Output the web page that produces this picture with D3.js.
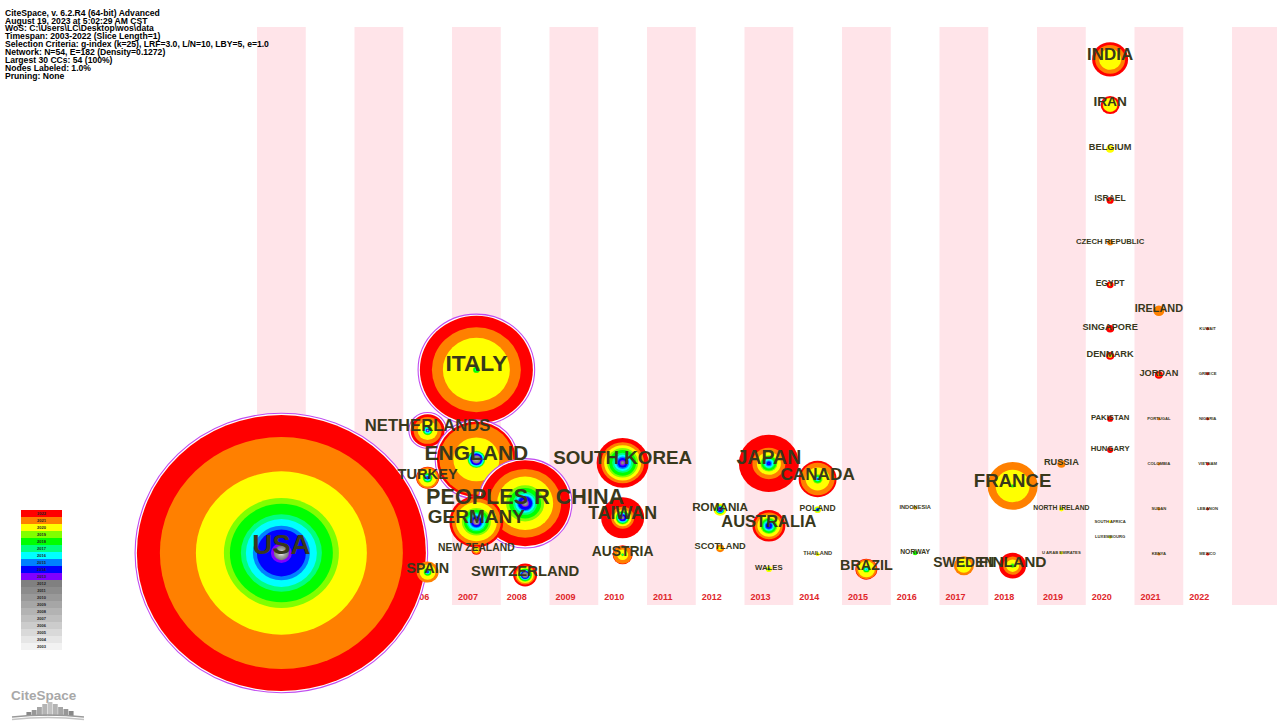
<!DOCTYPE html>
<html>
<head>
<meta charset="utf-8">
<script src="https://cdn.jsdelivr.net/npm/d3@7"></script>
<style>
  html, body { margin: 0; padding: 0; background: #ffffff; }
  svg { display: block; font-family: "Liberation Sans", Arial, sans-serif; }
</style>
</head>
<body>
<svg id="chart" width="1277" height="723"></svg>
<script>
// ---- time slices ----
const years = d3.range(2003, 2023);           // 2003 .. 2022
const zoneYears = d3.range(2003, 2024);       // timezone columns incl. trailing empty one
const sliceColors = [
  "#f2f2f2", "#e6e6e6", "#d9d9d9", "#cccccc", "#bfbfbf",
  "#b3b3b3", "#a6a6a6", "#999999", "#8c8c8c", "#808080",
  "#8000ff", "#0000ff", "#0080ff", "#00ffff", "#00ff80",
  "#00ff00", "#80ff00", "#ffff00", "#ff8000", "#ff0000"
];

// ---- run summary ----
const infoLines = [
  "CiteSpace, v. 6.2.R4 (64-bit) Advanced",
  "August 19, 2023 at 5:02:29 AM CST",
  "WoS: C:\\Users\\LC\\Desktop\\wos\\data",
  "Timespan: 2003-2022 (Slice Length=1)",
  "Selection Criteria: g-index (k=25), LRF=3.0, L/N=10, LBY=5, e=1.0",
  "Network: N=54, E=182 (Density=0.1272)",
  "Largest 30 CCs: 54 (100%)",
  "Nodes Labeled: 1.0%",
  "Pruning: None"
];

// ---- country nodes ----
const countries = [
  "USA", "ITALY", "NETHERLANDS", "ENGLAND", "TURKEY", "PEOPLES R CHINA", "GERMANY",
  "SPAIN", "NEW ZEALAND", "SWITZERLAND", "SOUTH KOREA", "TAIWAN", "AUSTRIA",
  "ROMANIA", "SCOTLAND", "JAPAN", "AUSTRALIA", "WALES", "CANADA", "POLAND", "THAILAND",
  "BRAZIL", "INDONESIA", "NORWAY", "SWEDEN", "FRANCE", "FINLAND",
  "RUSSIA", "NORTH IRELAND", "U ARAB EMIRATES",
  "INDIA", "IRAN", "BELGIUM", "ISRAEL", "CZECH REPUBLIC", "EGYPT", "SINGAPORE",
  "DENMARK", "PAKISTAN", "HUNGARY", "SOUTH AFRICA", "LUXEMBOURG",
  "IRELAND", "JORDAN", "PORTUGAL", "COLOMBIA", "SUDAN", "KENYA",
  "KUWAIT", "GREECE", "NIGERIA", "VIETNAM", "LEBANON", "MEXICO"
];
const firstYear = [
  2003, 2007, 2006, 2007, 2006, 2008, 2007,
  2006, 2007, 2008, 2010, 2010, 2010,
  2012, 2012, 2013, 2013, 2013, 2014, 2014, 2014,
  2015, 2016, 2016, 2017, 2018, 2018,
  2019, 2019, 2019,
  2020, 2020, 2020, 2020, 2020, 2020, 2020,
  2020, 2020, 2020, 2020, 2020,
  2021, 2021, 2021, 2021, 2021, 2021,
  2022, 2022, 2022, 2022, 2022, 2022
];
// vertical placement from the force layout (0 = top of zone area, 100 = bottom)
const layoutRow = [
  91.0, 59.3, 69.8, 74.8, 78.0, 82.4, 85.6,
  94.3, 90.5, 94.8, 75.4, 84.9, 91.3,
  83.5, 90.2, 75.5, 86.3, 93.8, 78.2, 83.5, 91.2,
  93.8, 83.2, 91.0, 93.2, 79.4, 93.2,
  75.6, 83.4, 91.0,
  5.6, 13.5, 21.1, 30.0, 37.3, 44.6, 52.2,
  56.9, 67.8, 73.2, 85.6, 88.3,
  49.1, 60.2, 67.8, 75.6, 83.4, 91.2,
  52.2, 60.0, 67.8, 75.6, 83.4, 91.2
];
// betweenness centrality
const centrality = [
  0.42, 0.12, 0.10, 0.11, 0.03, 0.10, 0.08,
  0.02, 0.01, 0.04, 0.04, 0.03, 0.01,
  0.01, 0.00, 0.04, 0.05, 0.00, 0.03, 0.00, 0.00,
  0.01, 0.00, 0.00, 0.01, 0.05, 0.02,
  0.00, 0.00, 0.00,
  0.02, 0.01, 0.00, 0.00, 0.00, 0.00, 0.00,
  0.00, 0.00, 0.00, 0.00, 0.00,
  0.00, 0.00, 0.00, 0.00, 0.00, 0.00,
  0.00, 0.00, 0.00, 0.00, 0.00, 0.00
];
// publications per year, from each node's first year up to 2022
const yearlyCounts = [
  [2,1,1,1,1,1,2,2,2,2,6,28,8,14,10,22,12,56,72,46],     // USA
  [0,0,0,0,0,0,0,0,0,2,1,3,1,60,22,24],                  // ITALY
  [1,0,0,1,0,0,0,0,1,1,2,1,2,1,10,8,6],                  // NETHERLANDS
  [1,1,2,1,2,1,1,3,1,2,1,1,1,28,28,5],                   // ENGLAND
  [0,0,0,0,0,0,1,0,2,1,2,1,2,1,8,4,1],                   // TURKEY
  [1,1,1,1,2,2,6,2,4,4,8,6,18,16,18],                    // PEOPLES R CHINA
  [1,1,1,1,1,1,1,4,2,4,3,5,4,12,8,5],                    // GERMANY
  [0,0,0,0,0,0,1,0,1,1,1,1,2,1,8,6,0],                   // SPAIN
  [0,0,0,0,0,0,0,0,0,0,0,1,1,3,3,2],                     // NEW ZEALAND
  [1,1,1,1,2,0,2,1,1,1,2,1,3,3,4],                       // SWITZERLAND
  [1,1,2,2,4,3,4,4,6,4,6,6,9],                           // SOUTH KOREA
  [1,1,1,1,3,1,2,1,2,1,4,5,20],                          // TAIWAN
  [0,0,0,0,0,0,1,0,1,1,8,8,1],                           // AUSTRIA
  [1,1,3,1,1,0,1,1,4,0,0],                               // ROMANIA
  [0,0,0,0,0,0,1,0,3,4,0],                               // SCOTLAND
  [1,3,2,3,2,4,2,7,9,27],                                // JAPAN
  [2,4,2,2,2,3,2,6,5,5],                                 // AUSTRALIA
  [0,2,0,0,0,1,0,3,0,0],                                 // WALES
  [1,1,2,1,3,2,14,10,4],                                 // CANADA
  [3,0,1,0,0,1,2,0,0],                                   // POLAND
  [0,0,0,0,0,1,3,0,0],                                   // THAILAND
  [1,2,1,2,1,10,4,1],                                    // BRAZIL
  [0,0,1,0,1,2,0],                                       // INDONESIA
  [0,0,4,1,0,0,0],                                       // NORWAY
  [0,2,1,12,5,0],                                        // SWEDEN
  [2,2,30,16,0],                                         // FRANCE
  [3,2,8,6,8],                                           // FINLAND
  [0,1,7,0],                                             // RUSSIA
  [2,3,0,0],                                             // NORTH IRELAND
  [0,3,0,0],                                             // U ARAB EMIRATES
  [22,8,6],                                              // INDIA
  [14,1,4],                                              // IRAN
  [8,0,0],                                               // BELGIUM
  [2,0,5],                                               // ISRAEL
  [1,5,0],                                               // CZECH REPUBLIC
  [2,1,4],                                               // EGYPT
  [2,0,6],                                               // SINGAPORE
  [4,0,4],                                               // DENMARK
  [1,0,5],                                               // PAKISTAN
  [1,0,5],                                               // HUNGARY
  [3,0,0],                                               // SOUTH AFRICA
  [3,0,0],                                               // LUXEMBOURG
  [11,0],                                                // IRELAND
  [4,4],                                                 // JORDAN
  [3,0], [3,0], [3,0], [3,0],                            // PORTUGAL, COLOMBIA, SUDAN, KENYA
  [3], [3], [3], [3], [3], [3]                           // KUWAIT .. MEXICO
];

// ---- drawing ----
const W = 1277, H = 723;
const svg = d3.select("#chart");
svg.append("rect").attr("width", W).attr("height", H).attr("fill", "#ffffff");

const zoneTop = 27, zoneBottom = 605;
const x = d3.scaleBand().domain(zoneYears).range([257, 257 + 48.75 * zoneYears.length]).padding(0);
const y = d3.scaleLinear().domain([0, 100]).range([zoneTop, zoneBottom]);
const r = d3.scaleLinear().domain([0, 2]).range([0, 1]);        // ring thickness per paper
const fontSize = d3.scaleLog().domain([3, 289]).range([4.2, 27.6]).clamp(true);
const color = d3.scaleOrdinal().domain(years).range(sliceColors);
const aspect = 0.955;

// alternating timezone columns
svg.append("g").selectAll("rect")
  .data(zoneYears.filter((d, i) => i % 2 === 0))
  .join("rect")
  .attr("x", d => x(d))
  .attr("y", zoneTop)
  .attr("width", x.bandwidth())
  .attr("height", zoneBottom - zoneTop)
  .attr("fill", "#ffe4e9");

// year captions along the bottom
svg.append("g").selectAll("text")
  .data(years)
  .join("text")
  .attr("x", d => x(d) + 6)
  .attr("y", 600)
  .attr("font-size", 9)
  .attr("font-weight", "bold")
  .attr("fill", "#e0262b")
  .text(d => d);

// node table
const nodes = countries.map((name, i) => {
  const counts = yearlyCounts[i];
  let cum = 0;
  const rings = counts.map((c, k) => {
    cum += c;
    return { year: firstYear[i] + k, count: c, outer: r(cum) };
  }).filter(k => k.count > 0);
  return {
    name,
    cx: x(firstYear[i]) + x.bandwidth() / 2,
    cy: y(layoutRow[i]),
    total: d3.sum(counts),
    radius: r(cum),
    centrality: centrality[i],
    rings
  };
});

// tree-ring nodes: outermost (latest) slice first, earlier slices painted inside
const nodeG = svg.append("g").selectAll("g")
  .data(nodes)
  .join("g")
  .attr("transform", d => `translate(${d.cx},${d.cy})`);

nodeG.filter(d => d.centrality >= 0.1)
  .append("ellipse")
  .attr("rx", d => d.radius + 1.8)
  .attr("ry", d => (d.radius + 1.8) * aspect)
  .attr("fill", "#ffffff")
  .attr("stroke", "#c04cf0")
  .attr("stroke-width", 1.1);

nodeG.selectAll("ellipse.ring")
  .data(d => d.rings.slice().reverse())
  .join("ellipse")
  .attr("class", "ring")
  .attr("rx", k => k.outer)
  .attr("ry", k => k.outer * aspect)
  .attr("fill", k => color(k.year));

// node labels
svg.append("g").selectAll("text")
  .data(nodes)
  .join("text")
  .attr("x", d => d.cx)
  .attr("y", d => d.cy + 1)
  .attr("text-anchor", "middle")
  .attr("font-weight", "bold")
  .attr("font-size", d => fontSize(d.total))
  .attr("fill", "#38381c")
  .text(d => d.name);

// run summary text
svg.append("g").selectAll("text")
  .data(infoLines)
  .join("text")
  .attr("x", 5)
  .attr("y", (d, i) => 15.6 + i * 7.92)
  .attr("font-size", 8.6)
  .attr("font-weight", "bold")
  .attr("fill", "#000000")
  .text(d => d);

// slice colour legend, newest on top
const legendYears = years.slice().reverse();
const lg = svg.append("g").attr("transform", "translate(21,510)");
lg.selectAll("rect")
  .data(legendYears)
  .join("rect")
  .attr("x", 0)
  .attr("y", (d, i) => i * 7)
  .attr("width", 41)
  .attr("height", 7)
  .attr("fill", d => color(d));
lg.selectAll("text")
  .data(legendYears)
  .join("text")
  .attr("x", 20.5)
  .attr("y", (d, i) => i * 7 + 5)
  .attr("text-anchor", "middle")
  .attr("font-size", 4)
  .attr("font-weight", "bold")
  .attr("fill", "#222222")
  .text(d => d);

// CiteSpace mark, bottom left
const logo = svg.append("g").attr("transform", "translate(10,686)");
logo.append("text")
  .attr("x", 1).attr("y", 14)
  .attr("font-size", 13.5)
  .attr("font-weight", "bold")
  .attr("fill", "#a8a8a8")
  .text("CiteSpace");
const skyline = [4, 6, 9, 12, 14, 12, 9, 7, 5];
const sx = d3.scaleBand().domain(d3.range(skyline.length)).range([16, 64]).padding(0.08);
logo.selectAll("rect.bar")
  .data(skyline)
  .join("rect")
  .attr("class", "bar")
  .attr("x", (d, i) => sx(i))
  .attr("y", d => 30 - d)
  .attr("width", sx.bandwidth())
  .attr("height", d => d)
  .attr("fill", (d, i) => d3.interpolateGreys(0.35 + 0.05 * Math.abs(i - 4)));
[0, 2.5].forEach((o, k) => {
  logo.append("path")
    .attr("d", `M2,${31 + o} Q38,${27 + o} 74,${31 + o}`)
    .attr("fill", "none")
    .attr("stroke", k === 0 ? "#9a9a9a" : "#c4c4c4")
    .attr("stroke-width", 1.4);
});
</script>
</body>
</html>
